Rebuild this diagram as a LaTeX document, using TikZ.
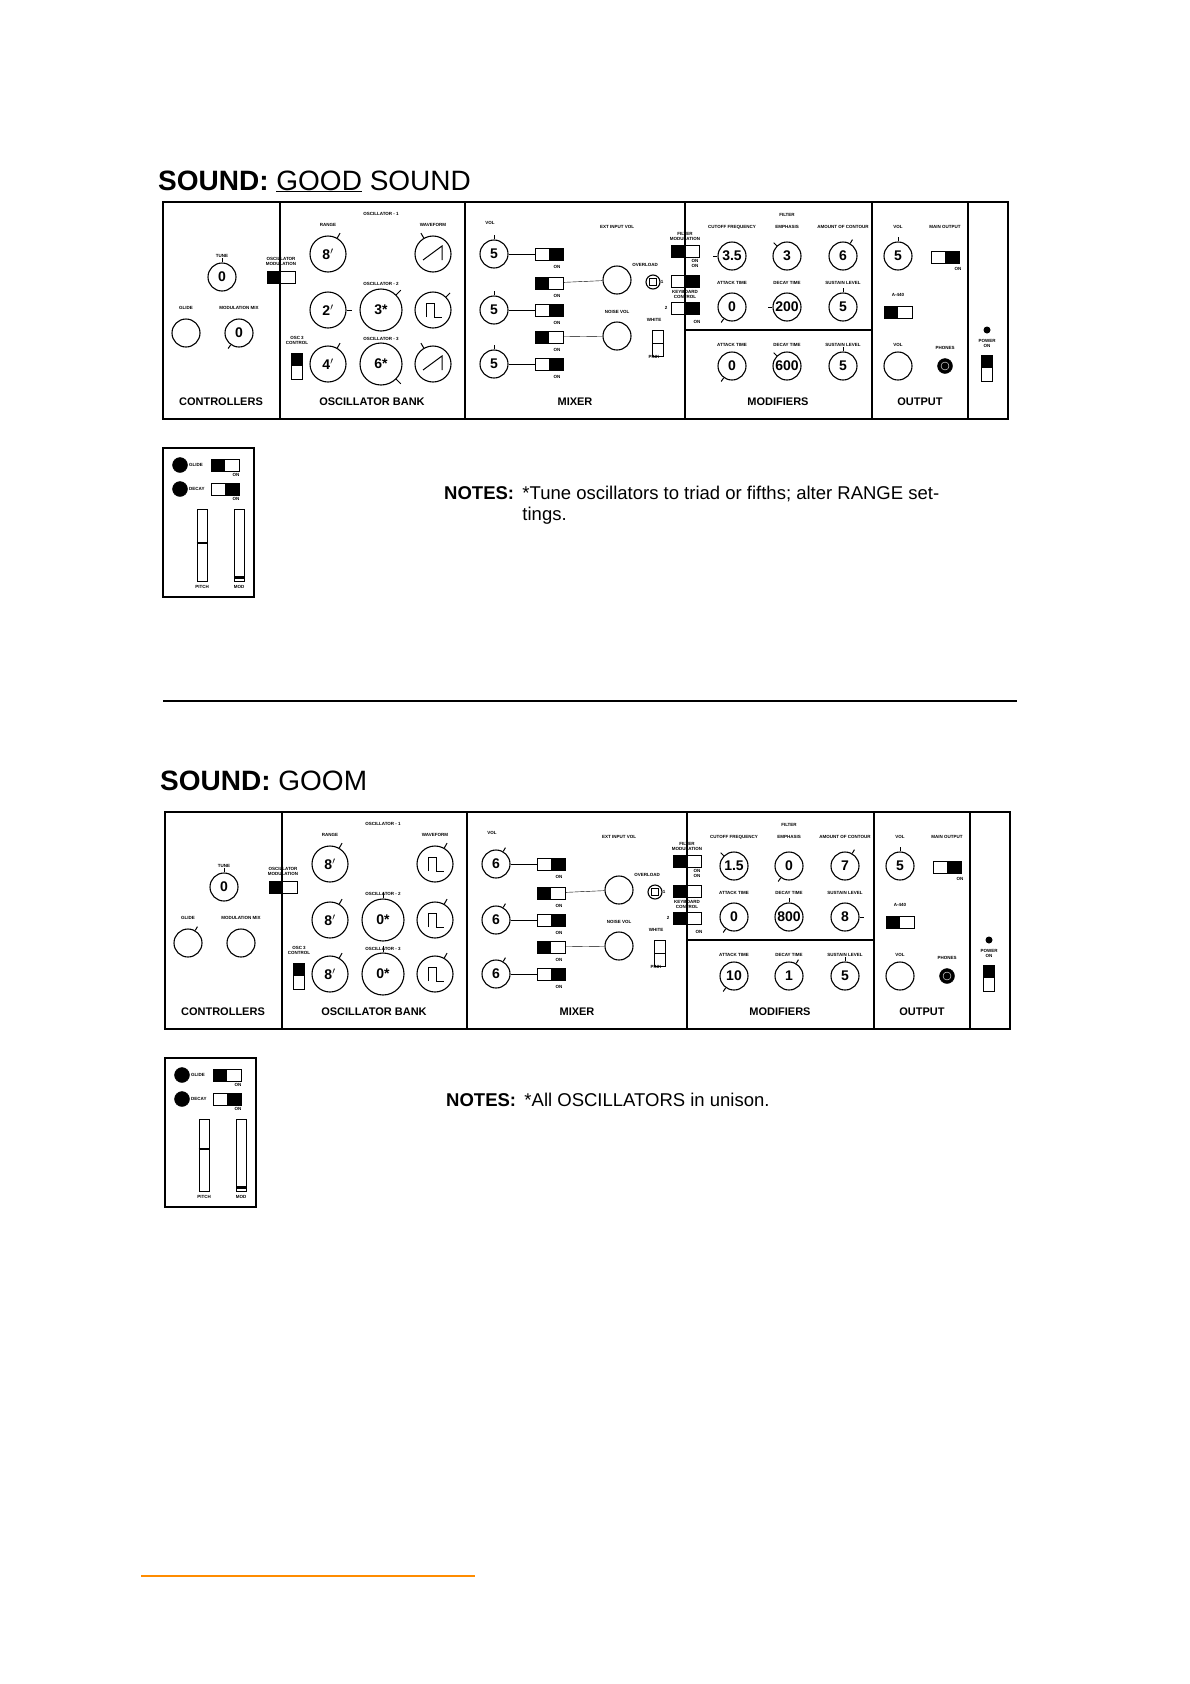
\documentclass[tikz,border=0pt]{standalone}
\usepackage{fontspec}
\setmainfont{Liberation Sans}
\usetikzlibrary{calc,positioning}

% knob with a pointer: name, x, y, size, angle, text
\newcommand\knob[6]{%
  \node[knob, minimum size=#4pt] (#1) at (#2,#3) {#6};
  \draw[line width=1pt] (#1.#5) -- ($(#1.center)!1.3!(#1.#5)$);}
% horizontal switch: name, x, y, black half (west/east)
\newcommand\hsw[4]{%
  \node[swbox] (#1) at (#2,#3) {};
  \fill (#1.north #4) rectangle (#1.south);}
% vertical switch: name, x, y
\newcommand\vsw[3]{%
  \node[vswbox] (#1) at (#2,#3) {};
  \fill (#1.north west) rectangle (#1.east);}
\newcommand\sawwave[1]{\draw[line width=1pt] ($(#1)+(-10,6)$) -- ($(#1)+(9,-8)$) -- ($(#1)+(9,6)$);}
\newcommand\sqwave[1]{\draw[line width=1pt] ($(#1)+(-7,7)$) -- ($(#1)+(-7,-7)$) -- ($(#1)+(1,-7)$) -- ($(#1)+(1,7)$) -- ($(#1)+(9,7)$);}

% everything that both panels share
\newcommand\panelframe[2]{%
  \draw[line width=1.3pt] (163,202) rectangle (1008,419);
  \foreach \xx in {280,465,685,872,968} \draw[line width=1.3pt] (\xx,202) -- (\xx,419);
  \draw[line width=1.3pt] (685,330) -- (872,330);
  % section names
  \node[sec] (ctl) at (221,402) {CONTROLLERS};
  \node[sec] (oscb) at (372,402) {OSCILLATOR BANK};
  \node[sec] (mix) at (575,402) {MIXER};
  \node[sec] (modf) at (778,402) {MODIFIERS};
  \node[sec] (outp) at (920,402) {OUTPUT};
  % small labels
  \node[lbl] at (222,256) {TUNE};
  \node[lbl] at (281,261) {OSCILLATOR\\MODULATION};
  \node[lbl] at (186,308) {GLIDE};
  \node[lbl] at (239,308) {MODULATION MIX};
  \node[lbl] at (381,214) {OSCILLATOR - 1};
  \node[lbl] at (381,284) {OSCILLATOR - 2};
  \node[lbl] at (381,339) {OSCILLATOR - 3};
  \node[lbl] at (328,225) {RANGE};
  \node[lbl] at (433,225) {WAVEFORM};
  \node[lbl] at (297,340) {OSC 3\\CONTROL};
  \node[lbl] at (490,223) {VOL};
  \node[lbl] at (617,227) {EXT INPUT VOL};
  \node[lbl] at (617,312) {NOISE VOL};
  \node[lbl] at (645,265) {OVERLOAD};
  \node[lbl] at (654,320) {WHITE};
  \node[lbl] at (654,357) {PINK};
  \node[lbl] at (685,236) {FILTER\\MODULATION};
  \node[lbl] at (695,263) {ON\\ON};
  \node[lbl] at (662,282) {1};
  \node[lbl] at (685,294) {KEYBOARD\\CONTROL};
  \node[lbl] at (666,308) {2};
  \node[lbl] at (697,322) {ON};
  \node[lbl] at (787,215) {FILTER};
  \node[lbl] at (732,227) {CUTOFF FREQUENCY};
  \node[lbl] at (787,227) {EMPHASIS};
  \node[lbl] at (843,227) {AMOUNT OF CONTOUR};
  \foreach \yy in {283,345} {
    \node[lbl] at (732,\yy) {ATTACK TIME};
    \node[lbl] at (787,\yy) {DECAY TIME};
    \node[lbl] at (843,\yy) {SUSTAIN LEVEL};}
  \node[lbl] at (898,227) {VOL};
  \node[lbl] at (945,227) {MAIN OUTPUT};
  \node[lbl] at (958,269) {ON};
  \node[lbl] at (898,295) {A-440};
  \node[lbl] at (898,345) {VOL};
  \node[lbl] at (945,348) {PHONES};
  \node[lbl] at (987,343) {POWER\\ON};
  % mixer
  \foreach \nn/\yy in {1/254,2/310,3/364} {
    \knob{vol\nn}{494}{\yy}{28}{#2}{#1}}
  \hsw{ms1}{549}{254}{east} \hsw{ms2}{549}{283}{west}
  \hsw{ms3}{549}{310}{east} \hsw{ms4}{549}{337}{west}
  \hsw{ms5}{549}{364}{east}
  \foreach \yy in {267,296,323,350,377} \node[lbl] at (557,\yy) {ON};
  \node[knob, minimum size=28pt] (ext) at (617,280) {};
  \node[knob, minimum size=28pt] (noise) at (617,336) {};
  \draw (vol1) -- (ms1); \draw (vol2) -- (ms3); \draw (vol3) -- (ms5);
  \draw (ms2) -- (ext); \draw (ms4) -- (noise);
  \node[knob, minimum size=14pt] (ovl) at (653,282) {};
  \node[draw, minimum size=7pt, inner sep=0pt] at (ovl) {};
  \node[vswbox] (wp) at (658,343) {};
  \draw (wp.west) -- (wp.east);
  % output
  \node[knob, minimum size=28pt] (ovol) at (898,366) {};
  \node[circle, fill, draw, minimum size=15pt, inner sep=0pt] (phones) at (945,366) {};
  \node[circle, draw=white, minimum size=8pt, inner sep=0pt] at (phones) {};
  \node[circle, fill, minimum size=7pt, inner sep=0pt] (pwrdot) at (987,330) {};
  \vsw{pwr}{987}{368}}

% keyboard box
\newcommand\kbbox[3]{%
  \draw[line width=1.2pt] (163,448) rectangle (254,597);
  \node[circle, fill, draw, minimum size=15pt, inner sep=0pt] (gj) at (180,465) {};
  \node[circle, fill, draw, minimum size=15pt, inner sep=0pt] (dj) at (180,489) {};
  \node[lbl, anchor=west] at (189,465) {GLIDE};
  \node[lbl, anchor=west] at (189,489) {DECAY};
  \hsw{gsw}{225}{465}{#1}
  \hsw{dsw}{225}{489}{#2}
  \node[lbl] at (236,475) {ON};
  \node[lbl] at (236,499) {ON};
  \node[slider] (pitch) at (202,545) {};
  \node[slider] (modw) at (239,545) {};
  \draw[line width=1.5pt] ($(pitch.west)+(0,#3)$) -- ($(pitch.east)+(0,#3)$);
  \draw[line width=2.5pt] ($(modw.south west)+(1,-4)$) -- ($(modw.south east)+(-1,-4)$);
  \node[lbl] at (202,587) {PITCH};
  \node[lbl] at (239,587) {MOD};}

\begin{document}
\begin{tikzpicture}[x=1pt, y=-1pt,
  knob/.style={circle, draw, line width=1.1pt, inner sep=0pt, font=\bfseries\fontsize{14}{14}\selectfont},
  lbl/.style={font=\bfseries\fontsize{4.5}{5}\selectfont, align=center, inner sep=0pt},
  sec/.style={font=\bfseries\fontsize{11}{12}\selectfont, inner sep=0pt},
  swbox/.style={draw, line width=1pt, minimum width=28pt, minimum height=12pt, inner sep=0pt},
  vswbox/.style={draw, line width=1pt, minimum width=11pt, minimum height=26pt, inner sep=0pt},
  slider/.style={draw, line width=1pt, minimum width=10pt, minimum height=72pt, inner sep=0pt},
  title/.style={font=\fontsize{28}{30}\selectfont, anchor=base west, inner sep=0pt},
  notes/.style={font=\fontsize{18.5}{21}\selectfont, inner sep=0pt, align=left}]
\useasboundingbox (0,0) rectangle (1190,1684);

% ---------- first sound ----------
\node[title] (t1) at (158,190) {\textbf{SOUND:} \underline{GOOD} SOUND};
\panelframe{5}{90}
\knob{tune}{222}{277}{28}{90}{0}
\node[knob, minimum size=28pt] (glide) at (186,333) {};
\knob{mmix}{239}{333}{28}{235}{0}
\hsw{oscmod}{281}{277}{west}
\vsw{osc3c}{297}{366}
\knob{r1}{328}{254}{36}{60}{8$'$}
\knob{w1}{433}{254}{36}{120}{} \sawwave{w1}
\knob{r2}{328}{310}{36}{0}{2$'$}
\knob{f2}{381}{310}{42}{45}{3*}
\knob{w2}{433}{310}{36}{45}{} \sqwave{w2}
\knob{r3}{328}{364}{36}{60}{4$'$}
\knob{f3}{381}{364}{42}{-45}{6*}
\knob{w3}{433}{364}{36}{120}{} \sawwave{w3}
\hsw{fmod}{685}{251}{west}
\hsw{kb1}{685}{281}{east}
\hsw{kb2}{685}{308}{east}
\knob{cut}{732}{256}{28}{180}{3.5}
\knob{emph}{787}{256}{28}{135}{3}
\knob{amt}{843}{256}{28}{60}{6}
\knob{fatk}{732}{307}{28}{235}{0}
\knob{fdec}{787}{307}{28}{180}{200}
\knob{fsus}{843}{307}{28}{90}{5}
\knob{latk}{732}{366}{28}{235}{0}
\knob{ldec}{787}{366}{28}{135}{600}
\knob{lsus}{843}{366}{28}{90}{5}
\knob{mvol}{898}{256}{28}{90}{5}
\hsw{mout}{945}{257}{east}
\hsw{a440}{898}{312}{west}
\kbbox{west}{east}{-2}
\node[notes, anchor=base west] (n1) at (444,499) {\textbf{NOTES:}};
\node[notes, anchor=north west] (n1t) at ($(n1.north east)+(8,0)$) {*Tune oscillators to triad or fifths; alter RANGE set-\\tings.};

\draw[line width=1.5pt] (163,701) -- (1017,701);

% ---------- second sound ----------
\begin{scope}[yshift=-610pt, xshift=2pt]
\node[title] (t2) at (158,180) {\textbf{SOUND:} GOOM};
\panelframe{6}{60}
\knob{tune}{222}{277}{28}{90}{0}
\knob{glide}{186}{333}{28}{60}{}
\node[knob, minimum size=28pt] (mmix) at (239,333) {};
\hsw{oscmod}{281}{277}{west}
\vsw{osc3c}{297}{366}
\knob{r1}{328}{254}{36}{60}{8$'$}
\knob{w1}{433}{254}{36}{60}{} \sqwave{w1}
\knob{r2}{328}{310}{36}{60}{8$'$}
\knob{f2}{381}{310}{42}{90}{0*}
\knob{w2}{433}{310}{36}{60}{} \sqwave{w2}
\knob{r3}{328}{364}{36}{60}{8$'$}
\knob{f3}{381}{364}{42}{90}{0*}
\knob{w3}{433}{364}{36}{60}{} \sqwave{w3}
\hsw{fmod}{685}{251}{west}
\hsw{kb1}{685}{281}{west}
\hsw{kb2}{685}{308}{west}
\knob{cut}{732}{256}{28}{135}{1.5}
\knob{emph}{787}{256}{28}{235}{0}
\knob{amt}{843}{256}{28}{60}{7}
\knob{fatk}{732}{307}{28}{235}{0}
\knob{fdec}{787}{307}{28}{90}{800}
\knob{fsus}{843}{307}{28}{0}{8}
\knob{latk}{732}{366}{28}{235}{10}
\knob{ldec}{787}{366}{28}{60}{1}
\knob{lsus}{843}{366}{28}{90}{5}
\knob{mvol}{898}{256}{28}{90}{5}
\hsw{mout}{945}{257}{east}
\hsw{a440}{898}{312}{west}
\kbbox{west}{east}{-6}
\node[notes, anchor=base west] (n2) at (444,496) {\textbf{NOTES:}};
\node[notes, anchor=base west] (n2t) at ($(n2.base east)+(8,0)$) {*All OSCILLATORS in unison.};
\end{scope}

\draw[line width=1.5pt, orange!90!yellow] (141,1576) -- (475,1576);
\end{tikzpicture}
\end{document}
